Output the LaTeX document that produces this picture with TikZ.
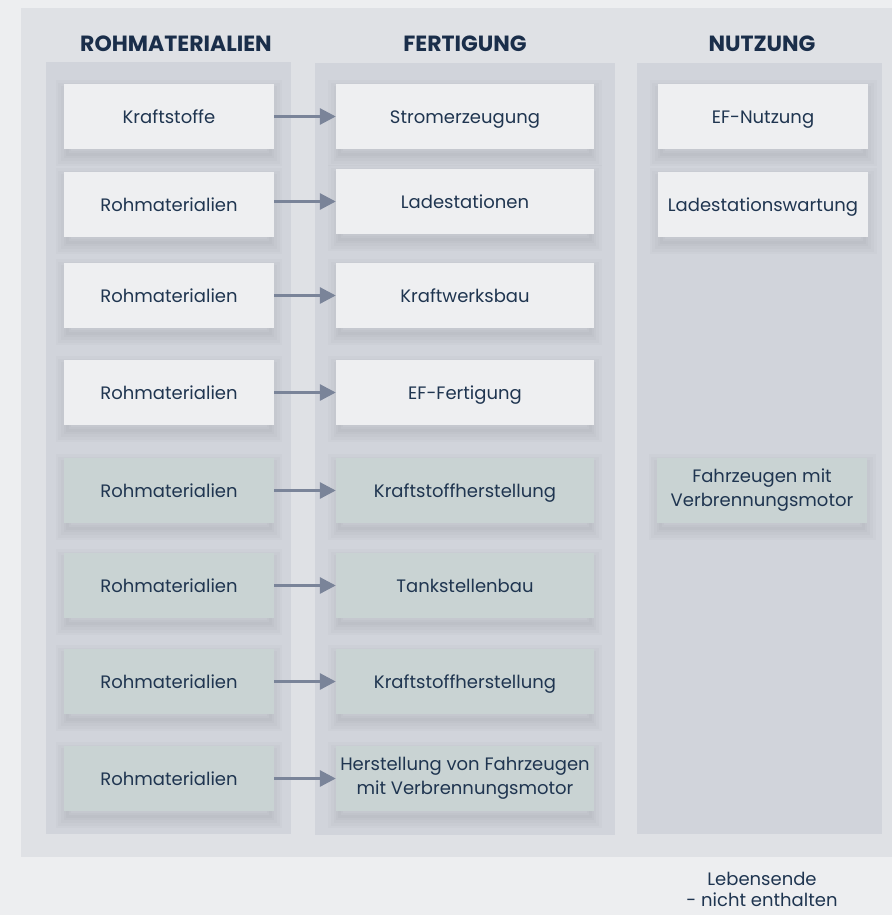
\documentclass[tikz,border=0pt]{standalone}
\usepackage{fontspec}
\setmainfont{Poppins}
\usetikzlibrary{arrows.meta, shadows}

\definecolor{pagebg}{HTML}{EDEEF0}
\definecolor{panelbg}{HTML}{DFE1E5}
\definecolor{colbg}{HTML}{D1D4DB}
\definecolor{boxlight}{HTML}{EEEFF1}
\definecolor{boxgreen}{HTML}{C9D3D3}
\definecolor{navy}{HTML}{1F3550}
\definecolor{headnavy}{HTML}{1A2E4A}
\definecolor{arrowgray}{HTML}{7A8499}

\tikzset{
    softshadow/.style = {general shadow={fill=none, draw=black, opacity=.017,
                                         line width=#1, shadow scale=.97,
                                         shadow yshift=-7pt}},
}

\begin{document}
\begin{tikzpicture}[
    x = 1pt, y = -1pt,
    font = \fontsize{18}{24}\selectfont, text = navy,
box/.style   = {fill=boxlight, minimum height=65pt, inner sep=0pt, align=center,
                text height=16.4pt, text depth=3pt,
                softshadow=24pt, softshadow=18pt, softshadow=12pt,
                softshadow=7pt, softshadow=3pt},
two/.style   = {text height=, text depth=},
green/.style = {box, fill=boxgreen},
narrow/.style = {minimum width=210pt},
wide/.style   = {minimum width=258pt},
head/.style  = {font=\fontsize{22}{26}\selectfont\bfseries, text=headnavy},
every edge/.style = {draw=arrowgray, line width=3pt,
                     -{Triangle[length=16pt, width=16pt]}},
                    ]
\useasboundingbox (0,0) rectangle (892,915);
\fill[pagebg] (0,0) rectangle (892,915);
% panels
\fill[panelbg] (21,8) rectangle (892,857);
\fill[colbg] (46,62) rectangle (291,834);
\fill[colbg] (315,63) rectangle (615,835);
\fill[colbg] (637,63) rectangle (882,834);
% column titles
\node[head] (hRaw) at (176,44) {ROHMATERIALIEN};
\node[head] (hFab) at (465,44) {FERTIGUNG};
\node[head] (hUse) at (762,44) {NUTZUNG};
% raw materials
\node[box, narrow]   (raw1) at (169,116.5) {Kraftstoffe};
\node[box, narrow]   (raw2) at (169,204.5) {Rohmaterialien};
\node[box, narrow]   (raw3) at (169,295.5) {Rohmaterialien};
\node[box, narrow]   (raw4) at (169,392.5) {Rohmaterialien};
\node[green, narrow] (raw5) at (169,490.5) {Rohmaterialien};
\node[green, narrow] (raw6) at (169,585.5) {Rohmaterialien};
\node[green, narrow] (raw7) at (169,681.5) {Rohmaterialien};
\node[green, narrow] (raw8) at (169,778.5) {Rohmaterialien};
% production
\node[box, wide]   (fab1) at (465,116.5) {Stromerzeugung};
\node[box, wide]   (fab2) at (465,201.5) {Ladestationen};
\node[box, wide]   (fab3) at (465,295.5) {Kraftwerksbau};
\node[box, wide]   (fab4) at (465,392.5) {EF-Fertigung};
\node[green, wide] (fab5) at (465,490.5) {Kraftstoffherstellung};
\node[green, wide] (fab6) at (465,585.5) {Tankstellenbau};
\node[green, wide] (fab7) at (465,681.5) {Kraftstoffherstellung};
\node[green, wide, two] (fab8) at (465,778.5) {Herstellung von Fahrzeugen\\mit Verbrennungsmotor};
% use phase
\node[box, narrow]   (use1) at (763,116.5) {EF-Nutzung};
\node[box, narrow]   (use2) at (763,204.5) {Ladestationswartung};
\node[green, narrow, two] (use5) at (762,490.5) {Fahrzeugen mit\\Verbrennungsmotor};
%
\node[align=center, inner sep=0pt, font=\fontsize{18}{21}\selectfont]
    (eol) at (762,889) {Lebensende\\- nicht enthalten};
%
\path   (raw1.east |- fab1.west) edge (fab1.west)
        (raw2.east |- fab2.west) edge (fab2.west)
        (raw3.east |- fab3.west) edge (fab3.west)
        (raw4.east |- fab4.west) edge (fab4.west)
        (raw5.east |- fab5.west) edge (fab5.west)
        (raw6.east |- fab6.west) edge (fab6.west)
        (raw7.east |- fab7.west) edge (fab7.west)
        (raw8.east |- fab8.west) edge (fab8.west);
\end{tikzpicture}
\end{document}
